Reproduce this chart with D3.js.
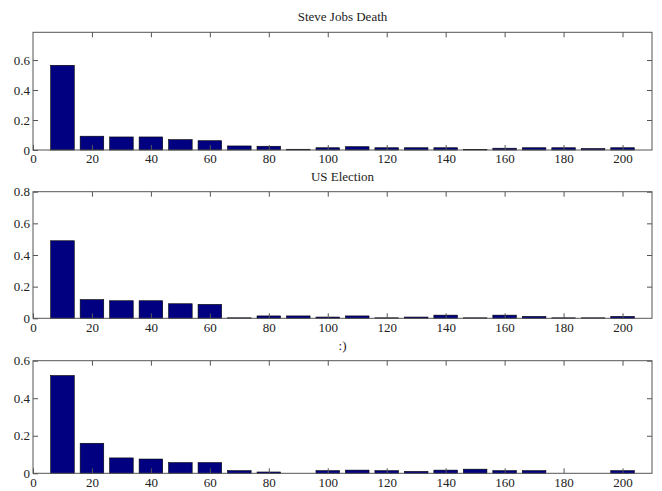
<!DOCTYPE html>
<html>
<head>
<meta charset="utf-8">
<script src="https://cdn.jsdelivr.net/npm/d3@7/dist/d3.min.js"></script>
<style>
  body { margin: 0; background: #fff; }
  svg text { font-family: "Liberation Serif", "DejaVu Serif", serif !important; }
</style>
</head>
<body>
<script>
// Data
const bins = [10, 20, 30, 40, 50, 60, 70, 80, 90, 100, 110, 120, 130, 140, 150, 160, 170, 180, 190, 200];
const steveJobs = [0.565, 0.092, 0.087, 0.087, 0.069, 0.062, 0.027, 0.025, 0.005, 0.015, 0.022, 0.015, 0.015, 0.015, 0.004, 0.012, 0.015, 0.015, 0.010, 0.015];
const usElection = [0.490, 0.118, 0.111, 0.111, 0.092, 0.088, 0.003, 0.015, 0.015, 0.008, 0.015, 0.003, 0.008, 0.020, 0.003, 0.020, 0.012, 0.003, 0.003, 0.012];
const smiley = [0.521, 0.160, 0.082, 0.076, 0.057, 0.057, 0.014, 0.007, 0, 0.014, 0.017, 0.014, 0.010, 0.017, 0.022, 0.014, 0.014, 0, 0, 0.014];
const titles = ["Steve Jobs Death", "US Election", ":)"];
const xTicks = [0, 20, 40, 60, 80, 100, 120, 140, 160, 180, 200];
const yTicks1 = [0, 0.2, 0.4, 0.6];
const yTicks2 = [0, 0.2, 0.4, 0.6, 0.8];
const yTicks3 = [0, 0.2, 0.4, 0.6];
const yMax = [0.785, 0.8, 0.6];

const width = 662, height = 491;
const left = 33, right = 652;
const boxes = [[32.3, 150], [191.7, 318.3], [360.7, 473.3]]; // top, bottom
const series = [steveJobs, usElection, smiley];
const yTicksAll = [yTicks1, yTicks2, yTicks3];

const svg = d3.select("body").append("svg")
    .attr("width", width)
    .attr("height", height);

const x = d3.scaleLinear().domain([0, 210]).range([left, right]);
const fmt = d => d === 0 ? "0" : d.toFixed(1);

series.forEach((values, i) => {
    const [top, bottom] = boxes[i];
    const y = d3.scaleLinear().domain([0, yMax[i]]).range([bottom, top]);
    const g = svg.append("g");

    // bars
    g.selectAll("rect.bar")
        .data(bins.map((b, j) => ({ b, v: values[j] })))
        .enter()
        .append("rect")
        .attr("class", "bar")
        .attr("x", d => x(d.b - 4))
        .attr("width", d => x(d.b + 4) - x(d.b - 4))
        .attr("y", d => y(d.v))
        .attr("height", d => y(0) - y(d.v))
        .attr("fill", "#000080")
        .attr("stroke", "#000")
        .attr("stroke-width", 0.6);

    // axes, ticks pointing inward on all sides
    const styleAxis = sel => {
        sel.attr("font-family", null);
        sel.select(".domain").remove();
        sel.selectAll("line").attr("stroke", "#555");
        sel.selectAll("text")
            .attr("font-size", "13px")
            .attr("fill", "#222");
    };

    g.append("g")
        .attr("transform", `translate(0,${bottom})`)
        .call(d3.axisBottom(x).tickValues(xTicks).tickSizeInner(-5).tickSizeOuter(0).tickPadding(4))
        .call(styleAxis);

    g.append("g")
        .attr("transform", `translate(0,${top})`)
        .call(d3.axisTop(x).tickValues(xTicks.slice(1)).tickSizeInner(-5).tickSizeOuter(0).tickFormat(""))
        .call(styleAxis);

    g.append("g")
        .attr("transform", `translate(${left},0)`)
        .call(d3.axisLeft(y).tickValues(yTicksAll[i]).tickSizeInner(-5).tickSizeOuter(0).tickPadding(3).tickFormat(fmt))
        .call(styleAxis);

    g.append("g")
        .attr("transform", `translate(${right},0)`)
        .call(d3.axisRight(y).tickValues(yTicksAll[i].slice(1)).tickSizeInner(-5).tickSizeOuter(0).tickFormat(""))
        .call(styleAxis);

    // box
    g.append("rect")
        .attr("x", left)
        .attr("y", top)
        .attr("width", right - left)
        .attr("height", bottom - top)
        .attr("fill", "none")
        .attr("stroke", "#555")
        .attr("stroke-width", 1);

    // title
    g.append("text")
        .attr("x", (left + right) / 2)
        .attr("y", top - 11)
        .attr("text-anchor", "middle")
        .attr("font-size", "13px")
        .attr("fill", "#222")
        .text(titles[i]);
});
</script>
</body>
</html>
